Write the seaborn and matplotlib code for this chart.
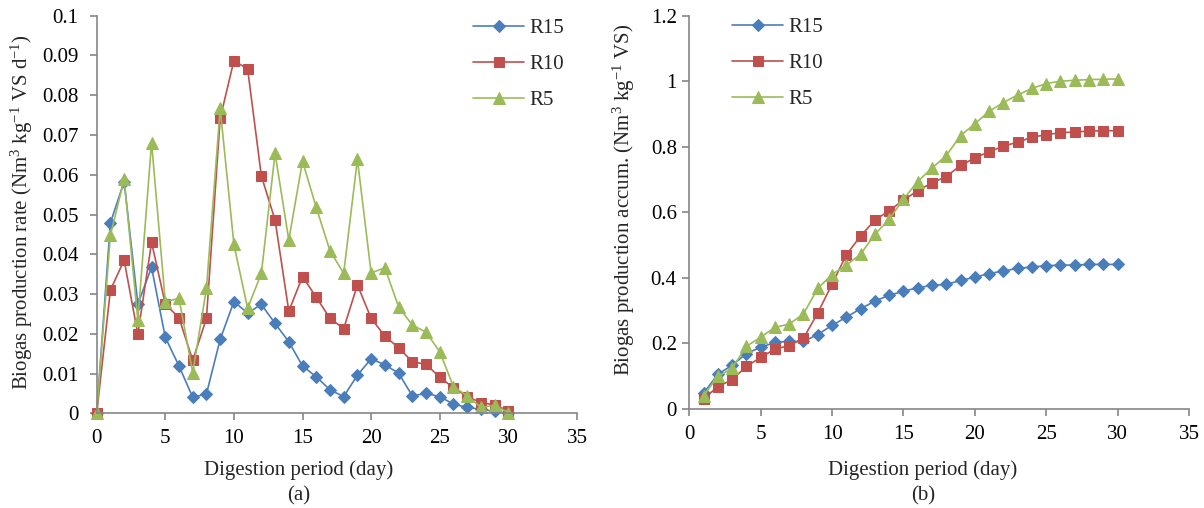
import pandas as pd
import matplotlib
matplotlib.use("Agg")
import matplotlib.pyplot as plt
import matplotlib.ticker as mticker
import seaborn as sns

# data
days_rate = list(range(0, 31))
r15_rate = [0, 0.0479, 0.0583, 0.0275, 0.0367, 0.0191, 0.0119, 0.0040, 0.0049, 0.0186,
            0.0281, 0.0252, 0.0274, 0.0226, 0.0180, 0.0119, 0.0092, 0.0059, 0.0042, 0.0096,
            0.0137, 0.0122, 0.0101, 0.0044, 0.0050, 0.0042, 0.0023, 0.0015, 0.0010, 0.0005, 0.0]
r10_rate = [0, 0.0310, 0.0385, 0.0199, 0.0430, 0.0275, 0.0240, 0.0133, 0.0239, 0.0742,
            0.0887, 0.0866, 0.0597, 0.0486, 0.0257, 0.0344, 0.0292, 0.0239, 0.0213, 0.0323,
            0.0239, 0.0194, 0.0165, 0.0130, 0.0123, 0.0091, 0.0064, 0.0042, 0.0027, 0.0021, 0.0006]
r5_rate = [0, 0.0448, 0.0589, 0.0235, 0.0681, 0.0281, 0.0289, 0.0102, 0.0314, 0.0767,
           0.0425, 0.0264, 0.0352, 0.0654, 0.0436, 0.0634, 0.0518, 0.0409, 0.0352, 0.0639,
           0.0353, 0.0366, 0.0268, 0.0222, 0.0204, 0.0155, 0.0067, 0.0044, 0.0015, 0.0020, 0.0002]

days_acc = list(range(1, 31))
r15_acc = [0.048, 0.106, 0.133, 0.169, 0.188, 0.203, 0.206, 0.206, 0.227, 0.255,
           0.280, 0.306, 0.329, 0.347, 0.359, 0.370, 0.377, 0.380, 0.392, 0.402,
           0.413, 0.421, 0.429, 0.433, 0.437, 0.439, 0.439, 0.441, 0.441, 0.441]
r10_acc = [0.031, 0.068, 0.089, 0.130, 0.157, 0.183, 0.193, 0.216, 0.293, 0.381,
           0.470, 0.528, 0.576, 0.605, 0.637, 0.666, 0.690, 0.709, 0.743, 0.766,
           0.785, 0.802, 0.814, 0.829, 0.837, 0.843, 0.845, 0.848, 0.849, 0.849]
r5_acc = [0.041, 0.099, 0.124, 0.191, 0.219, 0.249, 0.259, 0.290, 0.368, 0.410,
          0.439, 0.472, 0.533, 0.579, 0.640, 0.694, 0.735, 0.773, 0.834, 0.870,
          0.908, 0.935, 0.958, 0.978, 0.993, 1.000, 1.003, 1.005, 1.006, 1.007]

series = ["R15", "R10", "R5"]
colors = {"R15": "#4A7EBB", "R10": "#C0504D", "R5": "#9BBB59"}
markers = {"R15": "D", "R10": "s", "R5": "^"}
msizes = {"R15": 6, "R10": 7.5, "R5": 8.5}

df_rate = pd.DataFrame({"day": days_rate, "R15": r15_rate, "R10": r10_rate, "R5": r5_rate})
df_acc = pd.DataFrame({"day": days_acc, "R15": r15_acc, "R10": r10_acc, "R5": r5_acc})

sns.set_style("white")
plt.rcParams["font.family"] = ["Liberation Serif", "DejaVu Serif"]
plt.rcParams["mathtext.default"] = "regular"
FS = 15

fig = plt.figure(figsize=(12.04, 5.08), dpi=100)
ax1 = fig.add_axes([0.0803, 0.1864, 0.3989, 0.7827])
ax2 = fig.add_axes([0.5725, 0.1950, 0.4150, 0.7741])


def draw(ax, df, ymax, ystep, ypad, xpad):
    for s in series:
        sns.lineplot(data=df, x="day", y=s, ax=ax, color=colors[s], marker=markers[s],
                     markersize=msizes[s], markeredgecolor=colors[s], linewidth=1.2,
                     label=s)
    ax.set_xlim(0, 35)
    ax.set_ylim(0, ymax)
    ax.set_xticks(range(0, 36, 5))
    ax.yaxis.set_major_locator(mticker.MultipleLocator(ystep))
    ax.yaxis.set_major_formatter(mticker.FuncFormatter(lambda v, p: "%g" % round(v, 4)))
    ax.set_xlabel("")
    ax.set_ylabel("")
    for sp in ["top", "right"]:
        ax.spines[sp].set_visible(False)
    for sp in ["left", "bottom"]:
        ax.spines[sp].set_color("#868686")
        ax.spines[sp].set_linewidth(1.2)
    ax.tick_params(axis="both", direction="out", length=5, width=1.2, color="#868686",
                   labelsize=FS, labelcolor="black", left=True, bottom=True)
    ax.tick_params(axis="y", pad=ypad)
    ax.tick_params(axis="x", pad=xpad)
    for line in ax.lines:
        line.set_clip_on(False)


draw(ax1, df_rate, 0.1, 0.01, 8, 6)
draw(ax2, df_acc, 1.2, 0.2, 4, 6.5)

leg_kw = dict(frameon=False, fontsize=FS, handlelength=2.45, handletextpad=0.25,
              labelspacing=0.8, borderaxespad=0, numpoints=1)
ax1.legend(loc="upper left", bbox_to_anchor=(465 / 1204, 1 - 10 / 508),
           bbox_transform=fig.transFigure, **leg_kw)
ax2.legend(loc="upper left", bbox_to_anchor=(724 / 1204, 1 - 9 / 508),
           bbox_transform=fig.transFigure, **leg_kw)

fig.text(22 / 1204, 1 - 212 / 508, "Biogas production rate (Nm$^3$ kg$^{-1}$ VS d$^{-1}$)",
         rotation=90, ha="center", va="center", fontsize=FS)
fig.text(624 / 1204, 1 - 200 / 508, "Biogas production accum. (Nm$^3$ kg$^{-1}$ VS)",
         rotation=90, ha="center", va="center", fontsize=FS)
fig.text(299 / 1204, 1 - 470 / 508, "Digestion period (day)", ha="center", va="center", fontsize=FS)
fig.text(299 / 1204, 1 - 496 / 508, "(a)", ha="center", va="center", fontsize=FS)
fig.text(923 / 1204, 1 - 470 / 508, "Digestion period (day)", ha="center", va="center", fontsize=FS)
fig.text(923 / 1204, 1 - 496 / 508, "(b)", ha="center", va="center", fontsize=FS)

fig.savefig("out.png", dpi=100)
